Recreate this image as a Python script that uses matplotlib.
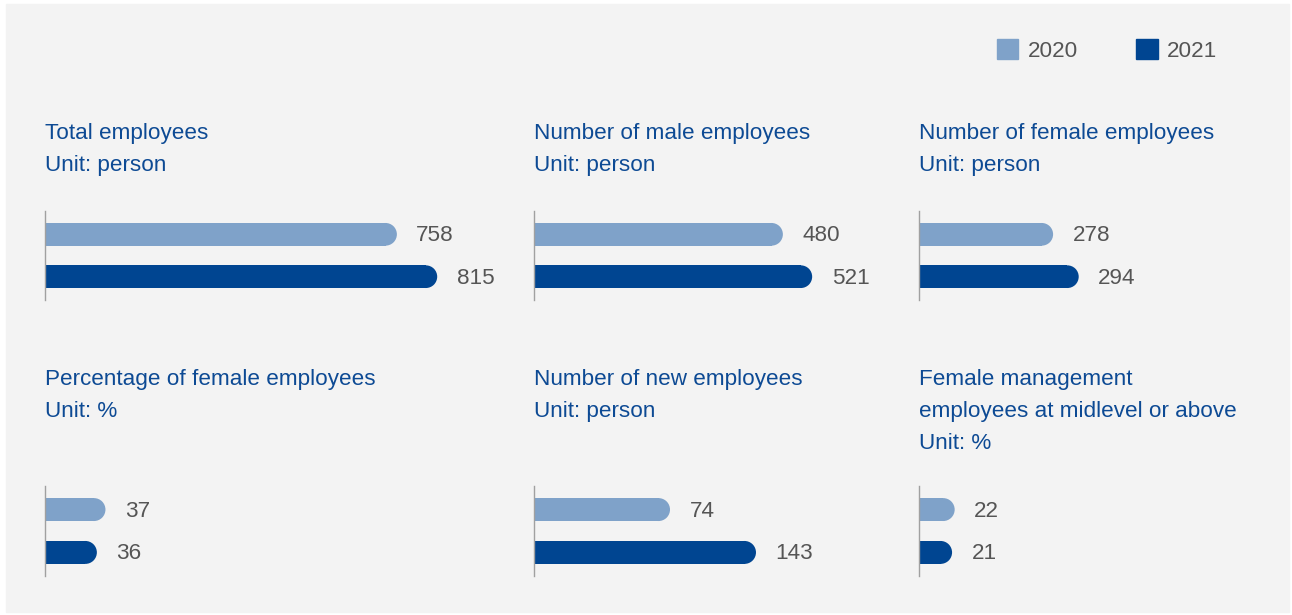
import numpy as np
import matplotlib
matplotlib.use("Agg")
import matplotlib.pyplot as plt
from matplotlib.patches import Rectangle, Ellipse, Patch

plt.rcParams['font.family'] = ['Liberation Sans', 'DejaVu Sans']

# data
titles = [
    ["Total employees", "Unit: person"],
    ["Number of male employees", "Unit: person"],
    ["Number of female employees", "Unit: person"],
    ["Percentage of female employees", "Unit: %"],
    ["Number of new employees", "Unit: person"],
    ["Female management", "employees at midlevel or above", "Unit: %"],
]
years = ["2020", "2021"]
values_2020 = [758, 480, 278, 37, 74, 22]
values_2021 = [815, 521, 294, 36, 143, 21]

# each panel has its own (non-zero based) scale, like the source infographic
xlims = [(261, 883), (132, 636), (194.4, 400.6),
         (30, 81.2), (-34.9, 254), (8.4, 135.3)]

C_LIGHT = '#7fa2c9'
C_DARK = '#004591'
C_TITLE = '#0d4a94'
C_TEXT = '#555555'
C_BG = '#f3f3f3'

W, H = 1292, 615
fig = plt.figure(figsize=(W / 100, H / 100), dpi=100)
fig.patch.set_facecolor('white')
fig.add_artist(Rectangle((6 / W, 1 - 612 / H), 1283 / W, 608 / H,
                         transform=fig.transFigure, color=C_BG, zorder=0))

col_x = [45, 534, 919]
col_w = [440, 360, 330]
row_axes = [(211, 300), (486, 576)]
row_title = [139, 385]
line_gap = 31.8
bar_h = 0.535


def px_axes(x, w, top, bottom):
    return [x / W, 1 - bottom / H, w / W, (bottom - top) / H]


for k in range(6):
    r, c = divmod(k, 3)
    x0 = col_x[c] + 0.3
    top, bottom = row_axes[r]
    ax = fig.add_axes(px_axes(x0, col_w[c], top, bottom))
    ax.set_facecolor('none')
    lo, hi = xlims[k]
    ax.set_xlim(lo, hi)
    ax.set_ylim(1.55, -0.55)
    for s in ['top', 'right', 'bottom']:
        ax.spines[s].set_visible(False)
    ax.spines['left'].set_color('#a0a0a0')
    ax.spines['left'].set_linewidth(1.0)
    ax.spines['left'].set_zorder(5)
    ax.set_xticks([])
    ax.set_yticks([])

    # pixel per unit to keep the bar end round
    p0 = ax.transData.transform((0, 0))
    p1 = ax.transData.transform((1, 1))
    sx = abs(p1[0] - p0[0])
    sy = abs(p1[1] - p0[1])
    rx = bar_h * sy / sx / 2

    for i, (v, col) in enumerate([(values_2020[k], C_LIGHT), (values_2021[k], C_DARK)]):
        ax.barh(i, v - rx - lo, left=lo, height=bar_h, color=col, linewidth=0)
        ax.add_patch(Ellipse((v - rx, i), 2 * rx, bar_h, color=col, linewidth=0))
        ax.annotate(str(v), xy=(v, i), xytext=(14, 0.7), textcoords='offset points',
                    va='center_baseline', ha='left', fontsize=16.2, color=C_TEXT)

    for j, line in enumerate(titles[k]):
        y = row_title[r] + j * line_gap
        fig.text(col_x[c] / W, 1 - y / H, line, fontsize=16.2, color=C_TITLE,
                 ha='left', va='baseline')

handles = [Patch(color=C_LIGHT), Patch(color=C_DARK)]
fig.legend(handles, years, loc='center left', bbox_to_anchor=(997 / W, 1 - 50.5 / H),
           ncol=2, frameon=False, fontsize=16.2, labelcolor=C_TEXT,
           handlelength=0.94, handleheight=0.94, handletextpad=0.42,
           columnspacing=2.6, borderpad=0, borderaxespad=0)

fig.savefig('out.png', dpi=100, facecolor='white')
